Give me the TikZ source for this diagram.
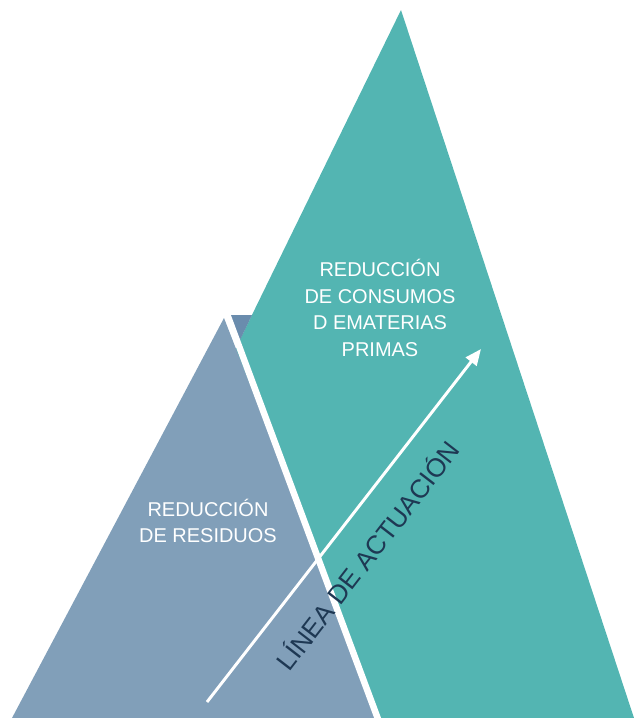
\documentclass[tikz,border=0pt]{standalone}
\usepackage{fontspec}
\setmainfont{Liberation Sans}
\usetikzlibrary{arrows.meta}

\definecolor{colConsumo}{HTML}{53B5B2}
\definecolor{colResiduo}{HTML}{819FB9}
\definecolor{colSombra}{HTML}{6A8CAD}
\definecolor{colTexto}{HTML}{1E3853}

\begin{document}
\begin{tikzpicture}[x=0.025cm, y=-0.025cm,
    etiqueta/.style={text=white, align=center, inner sep=0pt,
      font=\fontsize{14.2}{19}\selectfont},
    flecha/.style={draw=white, line width=2.1pt,
      -{Triangle[length=11.5pt, width=9.5pt]}},
    separador/.style={draw=white, line width=4.6pt}]
  \useasboundingbox (0,0) rectangle (633,718);

  % Triangulo grande (consumos)
  \fill[colConsumo] (401,10) -- (634,718) -- (55,718) -- cycle;
  \fill[colSombra] (229,315) -- (252,315) -- (240,340) -- cycle;

  % Triangulo pequeno (residuos)
  \fill[colResiduo] (224,318) -- (380,718) -- (12,718) -- cycle;
  \draw[separador] (226.3,312) -- (380.6,726);

  % Textos
  \node[etiqueta] (consumos) at (380,308)
    {REDUCCIÓN\\DE CONSUMOS\\D EMATERIAS\\PRIMAS};
  \node[etiqueta] (residuos) at (208,521) {REDUCCIÓN\\DE RESIDUOS};

  % Linea de actuacion
  \coordinate (inicio) at (207,702);
  \coordinate (fin) at (481,349);
  \draw[flecha] (inicio) -- (fin);
  \node[text=colTexto, anchor=base, inner sep=0pt, rotate=52.3,
    font=\fontsize{18.6}{22}\selectfont] (actuacion) at (375.5,561.5)
    {LÍNEA DE ACTUACIÓN};
\end{tikzpicture}
\end{document}
